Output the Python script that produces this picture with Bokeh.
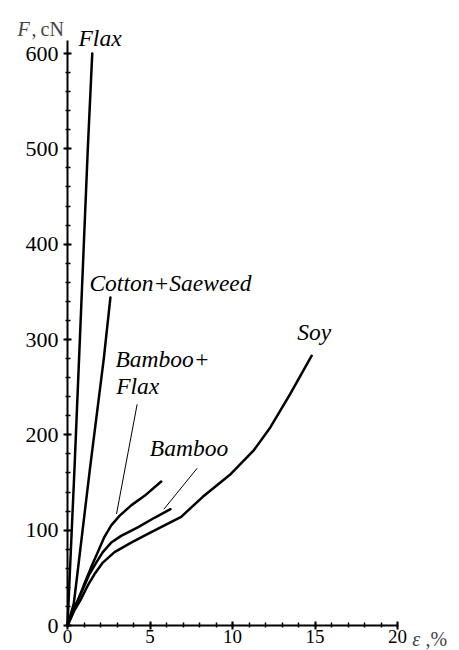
from bokeh.plotting import figure
from bokeh.models import ColumnDataSource, LabelSet, Label, FixedTicker, Range1d
from bokeh.embed import file_html
from bokeh.resources import INLINE

# ---- data ----
flax_x = [0, 0.42, 1.23, 1.5]
flax_y = [0, 163, 500, 600]

cotton_x = [0, 0.38, 0.55, 1.35, 2.2, 2.6]
cotton_y = [0, 23, 47, 163, 280, 344]

bamflax_x = [0, 0.22, 0.63, 1.03, 1.43, 1.84, 2.24, 2.65, 3.15, 3.86, 4.67, 5.68]
bamflax_y = [0, 9, 26, 44, 61, 77, 93, 105, 115, 126, 136, 151]

bamboo_x = [0, 0.53, 0.93, 1.33, 1.74, 2.14, 2.65, 3.25, 4.26, 5.27, 6.24]
bamboo_y = [0, 23, 38, 54, 66, 77, 87, 94, 103, 113, 122]

soy_x = [0, 0.42, 0.83, 1.23, 1.64, 2.14, 2.85, 3.86, 4.87, 5.88, 6.89,
         8.2, 9.9, 11.3, 12.3, 13.5, 14.8]
soy_y = [0, 16, 28, 42, 54, 66, 77, 87, 96, 105, 114,
         135, 159, 184, 208, 243, 283]

curve_labels = ["Flax", "Cotton+Saeweed", "Bamboo+", "Flax", "Bamboo", "Soy"]
label_x = [0.667, 1.33, 2.91, 2.95, 4.99, 13.92]
label_y = [608.4, 351.4, 271.1, 243.0, 177.6, 299.0]

leader_x0 = [4.22, 7.86]
leader_y0 = [232, 165]
leader_x1 = [2.97, 5.84]
leader_y1 = [117, 122]

x_ticks = [0, 5, 10, 15, 20]
x_minor = list(range(0, 21))
y_ticks = [0, 100, 200, 300, 400, 500, 600]
y_minor = list(range(0, 601, 20))
x_axis_end = 20
y_axis_end = 613.6

SERIF = "Liberation Serif"

W, H = 456, 650
PX_X = 16.5     # pixels per x unit
PX_Y = 0.9533   # pixels per y unit
X0, Y0 = 67, 625  # pixel position of the origin

p = figure(width=W, height=H,
           x_range=Range1d(-X0 / PX_X, (W - X0) / PX_X),
           y_range=Range1d((Y0 - H) / PX_Y, Y0 / PX_Y),
           output_backend="svg", toolbar_location=None,
           min_border_left=0, min_border_right=0,
           min_border_top=0, min_border_bottom=0)
p.outline_line_color = None
p.xgrid.visible = False
p.ygrid.visible = False
p.background_fill_color = "white"
p.border_fill_color = "white"

p.xaxis.fixed_location = 0
p.yaxis.fixed_location = 0
p.xaxis.bounds = (0, x_axis_end)
p.yaxis.bounds = (0, y_axis_end)

for ax in (p.xaxis, p.yaxis):
    ax.axis_line_width = 2
    ax.axis_line_color = "black"
    ax.major_tick_line_width = 2
    ax.minor_tick_line_width = 1.5
    ax.major_tick_in = 4
    ax.major_tick_out = 4
    ax.minor_tick_in = 3
    ax.minor_tick_out = 2
    ax.major_tick_line_color = "black"
    ax.minor_tick_line_color = "black"
    ax.major_label_text_font = SERIF
    ax.major_label_text_color = "black"

p.xaxis.ticker = FixedTicker(ticks=x_ticks, minor_ticks=x_minor)
p.yaxis.ticker = FixedTicker(ticks=y_ticks, minor_ticks=y_minor)
p.xaxis.major_label_text_font_size = "19px"
p.xaxis.major_label_standoff = 0
p.yaxis.major_label_text_font_size = "22px"
p.yaxis.major_label_standoff = 5

# curves
for xs, ys in [(flax_x, flax_y), (cotton_x, cotton_y), (bamflax_x, bamflax_y),
               (bamboo_x, bamboo_y), (soy_x, soy_y)]:
    p.line(xs, ys, line_color="black", line_width=2.5, line_join="round", line_cap="round")

# leader lines
p.segment(x0=leader_x0, y0=leader_y0, x1=leader_x1, y1=leader_y1,
          line_color="black", line_width=1)

# curve labels
lab_src = ColumnDataSource(dict(x=label_x, y=label_y, text=curve_labels))
p.add_layout(LabelSet(x="x", y="y", text="text", source=lab_src,
                      text_font=SERIF, text_font_style="italic",
                      text_font_size="23.5px", text_color="black",
                      text_baseline="alphabetic", text_align="left"))

# axis titles
p.add_layout(Label(x=-3.03, y=626.2, text="F", text_font=SERIF, text_font_style="italic",
                   text_font_size="20px", text_baseline="alphabetic"))
p.add_layout(Label(x=-2.18, y=626.2, text=",\u2009cN", text_font=SERIF,
                   text_font_size="20px", text_baseline="alphabetic"))
p.add_layout(Label(x=20.9, y=-14.5, text="ε", text_font=SERIF, text_font_style="italic",
                   text_font_size="20px", text_baseline="alphabetic"))
p.add_layout(Label(x=21.7, y=-14.5, text=",%", text_font=SERIF,
                   text_font_size="20px", text_baseline="alphabetic"))

open("out.html", "w").write(file_html(p, INLINE))
